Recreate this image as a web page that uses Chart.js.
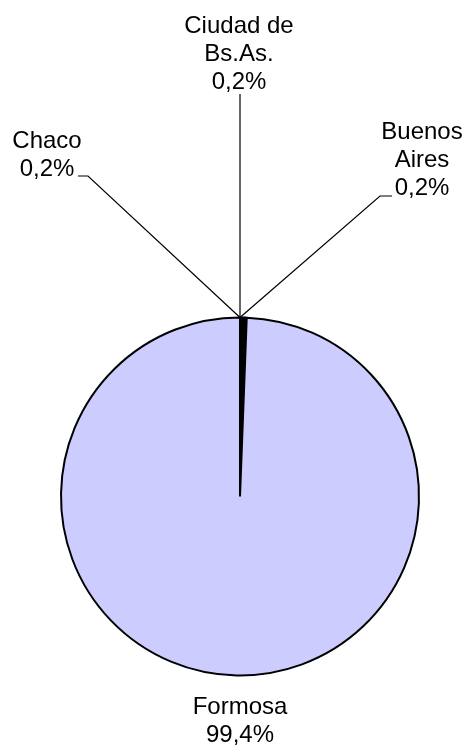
<!DOCTYPE html>
<html>
<head>
<meta charset="utf-8">
<script src="https://cdn.jsdelivr.net/npm/chart.js@4/dist/chart.umd.min.js"></script>
<style>
html,body{margin:0;padding:0;background:#fff;}
canvas{display:block;}
</style>
</head>
<body>
<canvas id="c" width="471" height="746"></canvas>
<script>
const categories = ["Buenos Aires", "Chaco", "Ciudad de Bs.As.", "Formosa"];
const values = [0.2, 0.2, 0.2, 99.4];
const percentLabels = ["0,2%", "0,2%", "0,2%", "99,4%"];
const labelLines = [["Buenos", "Aires"], ["Chaco"], ["Ciudad de", "Bs.As."], ["Formosa"]];

const labelLayout = [
  {x: 422, y: 139, elbow: [[392, 196], [380, 196]]},
  {x: 47, y: 148, elbow: [[78, 176], [88, 176]]},
  {x: 239, y: 33, elbow: [[240, 94]]},
  {x: 240, y: 714, elbow: null}
];

const labelPlugin = {
  id: 'pieLabels',
  afterDraw(chart) {
    const ctx = chart.ctx;
    const meta = chart.getDatasetMeta(0);
    const first = meta.data[0].getProps(['x', 'y', 'startAngle', 'outerRadius'], true);
    const ex = first.x + Math.cos(first.startAngle) * first.outerRadius;
    const ey = first.y + Math.sin(first.startAngle) * first.outerRadius;
    ctx.save();
    ctx.font = '24px "Liberation Sans", Arial, sans-serif';
    ctx.fillStyle = '#000';
    ctx.textBaseline = 'alphabetic';
    ctx.textAlign = 'center';
    const lh = 28;
    meta.data.forEach((arc, i) => {
      const L = labelLayout[i];
      const lines = labelLines[i].concat([percentLabels[i]]);
      lines.forEach((t, k) => ctx.fillText(t, L.x, L.y + k * lh));
      if (L.elbow) {
        ctx.beginPath();
        ctx.strokeStyle = '#000';
        ctx.lineWidth = 1.2;
        const pts = L.elbow;
        ctx.moveTo(pts[0][0], pts[0][1]);
        for (let j = 1; j < pts.length; j++) ctx.lineTo(pts[j][0], pts[j][1]);
        ctx.lineTo(ex, ey);
        ctx.stroke();
      }
    });
    ctx.restore();
  }
};

new Chart(document.getElementById('c'), {
  type: 'pie',
  data: {
    labels: categories,
    datasets: [{
      data: values,
      backgroundColor: ['#000000', '#000000', '#000000', '#CCCCFF'],
      borderColor: '#000000',
      borderWidth: 2
    }]
  },
  options: {
    responsive: false,
    animation: false,
    layout: {padding: {left: 60, right: 51, top: 316, bottom: 69}},
    plugins: {legend: {display: false}, tooltip: {enabled: false}}
  },
  plugins: [labelPlugin]
});
</script>
</body>
</html>
